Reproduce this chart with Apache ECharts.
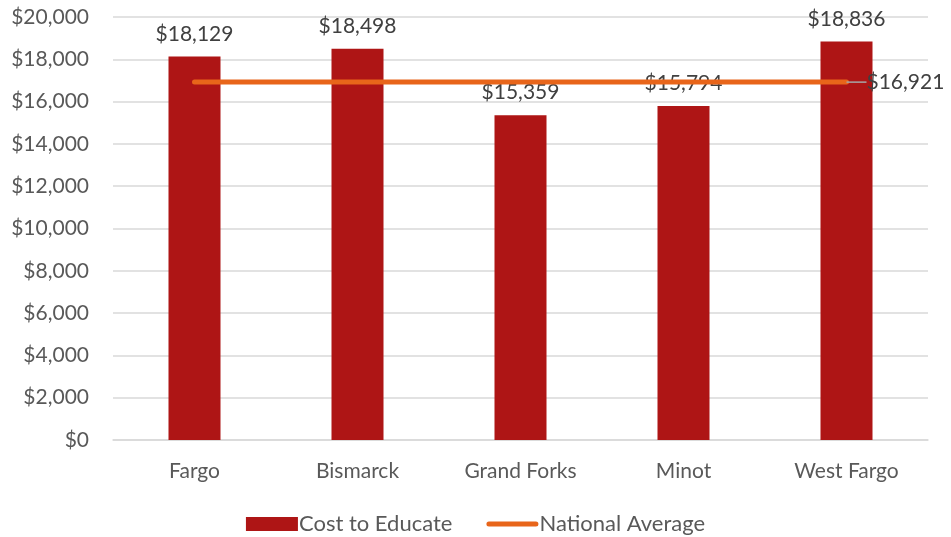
<!DOCTYPE html>
<html><head><meta charset="utf-8">
<script src="https://cdn.jsdelivr.net/npm/echarts@6/dist/echarts.min.js"></script>
<style>html,body{margin:0;padding:0;background:#fff}#c{width:951px;height:537px}</style>
</head><body><div id="c"></div>
<script>
const categories = ['Fargo', 'Bismarck', 'Grand Forks', 'Minot', 'West Fargo'];
const costToEducate = [18129, 18498, 15359, 15794, 18836];
const nationalAverage = [16921, 16921, 16921, 16921, 16921];
const yTicks = { min: 0, max: 20000, interval: 2000 };

const fmt = v => '$' + Number(v).toLocaleString('en-US');
const FONT = 'Lato, "Open Sans", sans-serif';
const FS = 21;
const chart = echarts.init(document.getElementById('c'));
chart.setOption({
  animation: false,
  textStyle: { fontFamily: FONT },
  grid: { left: 113, right: 23, top: 17, bottom: 97 },
  legend: {
    bottom: -3, itemGap: 34, itemWidth: 52, itemHeight: 14,
    textStyle: { fontSize: 22, color: '#595959', fontFamily: FONT, padding: [0, 0, 0, -4] },
    data: [
      { name: 'Cost to Educate', icon: 'rect' },
      { name: 'National Average', icon: 'path://M2.5,0 L49.5,0 A2.5,2.5 0 0 1 49.5,5 L2.5,5 A2.5,2.5 0 0 1 2.5,0 Z' }
    ]
  },
  xAxis: {
    type: 'category', data: categories,
    axisLine: { lineStyle: { color: '#d9d9d9', width: 1.5 } },
    axisTick: { show: false },
    axisLabel: { fontSize: FS, color: '#595959', margin: 21, fontFamily: FONT }
  },
  yAxis: {
    type: 'value', min: yTicks.min, max: yTicks.max, interval: yTicks.interval,
    axisLabel: { fontSize: FS, color: '#595959', margin: 24, formatter: fmt, fontFamily: FONT },
    splitLine: { lineStyle: { color: '#d9d9d9', width: 1.5 } },
    axisLine: { show: false }, axisTick: { show: false }
  },
  series: [
    {
      name: 'Cost to Educate', type: 'bar', data: costToEducate,
      barWidth: 52,
      itemStyle: { color: '#AE1515' },
      label: { show: true, position: 'top', distance: 12, formatter: p => fmt(p.value),
        fontSize: FS, color: '#404040', fontFamily: FONT }
    },
    {
      name: 'National Average', type: 'line',
      data: nationalAverage.map((v, i) => i === nationalAverage.length - 1 ?
        { value: v, label: { show: true } } : v),
      symbol: 'circle', symbolSize: 0, showSymbol: true,
      lineStyle: { color: '#E8651A', width: 5, cap: 'round' },
      itemStyle: { color: '#E8651A' },
      label: { show: false, position: 'right', distance: 2, formatter: p => fmt(p.value),
        fontSize: FS, color: '#404040', fontFamily: FONT },
      labelLine: { show: true, lineStyle: { color: '#a6a6a6', width: 1.5 } },
      labelLayout: p => p.dataIndex === 4 ? { dx: 18 } : {}
    }
  ]
});
</script></body></html>
